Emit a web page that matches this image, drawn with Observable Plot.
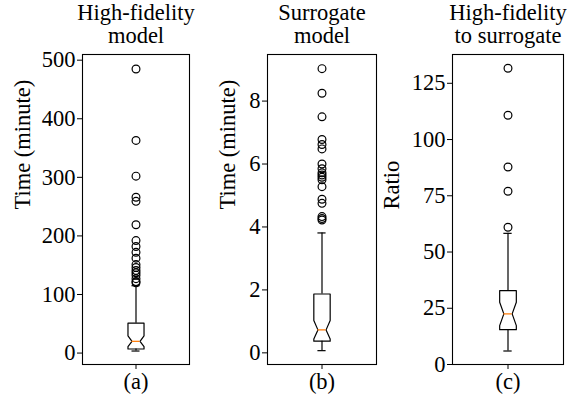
<!DOCTYPE html>
<html><head><meta charset="utf-8">
<script src="https://cdn.jsdelivr.net/npm/d3@7"></script>
<script src="https://cdn.jsdelivr.net/npm/@observablehq/plot@0.6"></script>
<style>
body{margin:0;background:#fff;}
#fig{position:relative;width:567px;height:402px;overflow:hidden;background:#fff;}
#fig svg{position:absolute;top:0;overflow:visible;}
</style></head><body><div id="fig"></div>
<script>
const panels = ["(a)", "(b)", "(c)"];
const titles = ["High-fidelity\nmodel", "Surrogate\nmodel", "High-fidelity\nto surrogate"];
const yLabels = ["Time (minute)", "Time (minute)", "Ratio"];
// box statistics: [whiskerLo, q1, notchLo, median, notchHi, q3, whiskerHi]
const statsA = [3.5, 7, 11, 20, 29.5, 51, 115];
const statsB = [0.07, 0.37, 0.44, 0.73, 1.03, 1.87, 3.81];
const statsC = [6, 15.5, 17.3, 22.5, 27.7, 32.8, 58.3];
const outliersA = [485, 363, 302, 266, 259, 219, 192, 182, 172, 162, 151, 146, 141, 137, 133, 127, 122, 120];
const outliersB = [9.03, 8.25, 7.5, 6.78, 6.62, 6.48, 6.0, 5.85, 5.72, 5.65, 5.58, 5.5, 5.28, 4.88, 4.75, 4.33, 4.27, 4.22];
const outliersC = [131.7, 110.8, 87.8, 77, 61];
const yTicksA = [0, 100, 200, 300, 400, 500];
const yTicksB = [0, 2, 4, 6, 8];
const yTicksC = [0, 25, 50, 75, 100, 125];

const cfg = [
  {stats: statsA, out: outliersA, ticks: yTicksA, domain: [-19.5, 509.7], left: 0, width: 195, ml: 82, mr: 6, labDx: -60},
  {stats: statsB, out: outliersB, ticks: yTicksB, domain: [-0.37, 9.48], left: 195, width: 186, ml: 72, mr: 5, labDx: -40},
  {stats: statsC, out: outliersC, ticks: yTicksC, domain: [0, 137.8], left: 381, width: 186, ml: 71, mr: 4, labDx: -61}
];

const W = 0.15; // matplotlib default box width in axis units
const FS = 22.5;

function notchBox(s) {
  const [wl, q1, nl, m, nh, q3, wh] = s;
  return [[1 - W/2, q1], [1 - W/2, nl], [1 - W/4, m], [1 - W/2, nh], [1 - W/2, q3],
          [1 + W/2, q3], [1 + W/2, nh], [1 + W/4, m], [1 + W/2, nl], [1 + W/2, q1], [1 - W/2, q1]]
    .map(([x, y]) => ({x, y}));
}

const fig = document.getElementById("fig");
cfg.forEach((c, i) => {
  const s = c.stats;
  const chart = Plot.plot({
    width: c.width,
    height: 402,
    marginLeft: c.ml,
    marginRight: c.mr,
    marginTop: 54,
    marginBottom: 38,
    style: {fontFamily: "'Liberation Serif', 'Times New Roman', serif", fontSize: FS + "px", color: "black", background: "transparent", overflow: "visible"},
    x: {domain: [0.5, 1.5], ticks: [1], tickFormat: () => panels[i], tickSize: 5, tickPadding: 4, label: null},
    y: {domain: c.domain, ticks: c.ticks, tickSize: 5, tickPadding: 2, label: null},
    marks: [
      Plot.frame({stroke: "black", strokeWidth: 1.1}),
      Plot.ruleX([{lo: s[0], hi: s[1]}, {lo: s[5], hi: s[6]}], {x: 1, y1: "lo", y2: "hi", stroke: "black", strokeWidth: 1.2}),
      Plot.ruleY([s[0], s[6]], {y: d => d, x1: 1 - W/4, x2: 1 + W/4, stroke: "black", strokeWidth: 1.2}),
      Plot.line(notchBox(s), {x: "x", y: "y", stroke: "black", strokeWidth: 1.2}),
      Plot.ruleY([s[3]], {y: d => d, x1: 1 - W/4, x2: 1 + W/4, stroke: "#ff7f0e", strokeWidth: 1.3}),
      Plot.dot(c.out, {x: 1, y: d => d, r: 3.9, stroke: "black", fill: "none", strokeWidth: 1.2}),
      Plot.text([titles[i]], {text: d => d, frameAnchor: "top", lineAnchor: "bottom", dy: -12, fontSize: FS, lineHeight: 1.02}),
      Plot.text([yLabels[i]], {text: d => d, frameAnchor: "left", rotate: -90, dx: c.labDx, fontSize: FS})
    ]
  });
  chart.style.left = c.left + "px";
  fig.appendChild(chart);
});
</script>
</body></html>
